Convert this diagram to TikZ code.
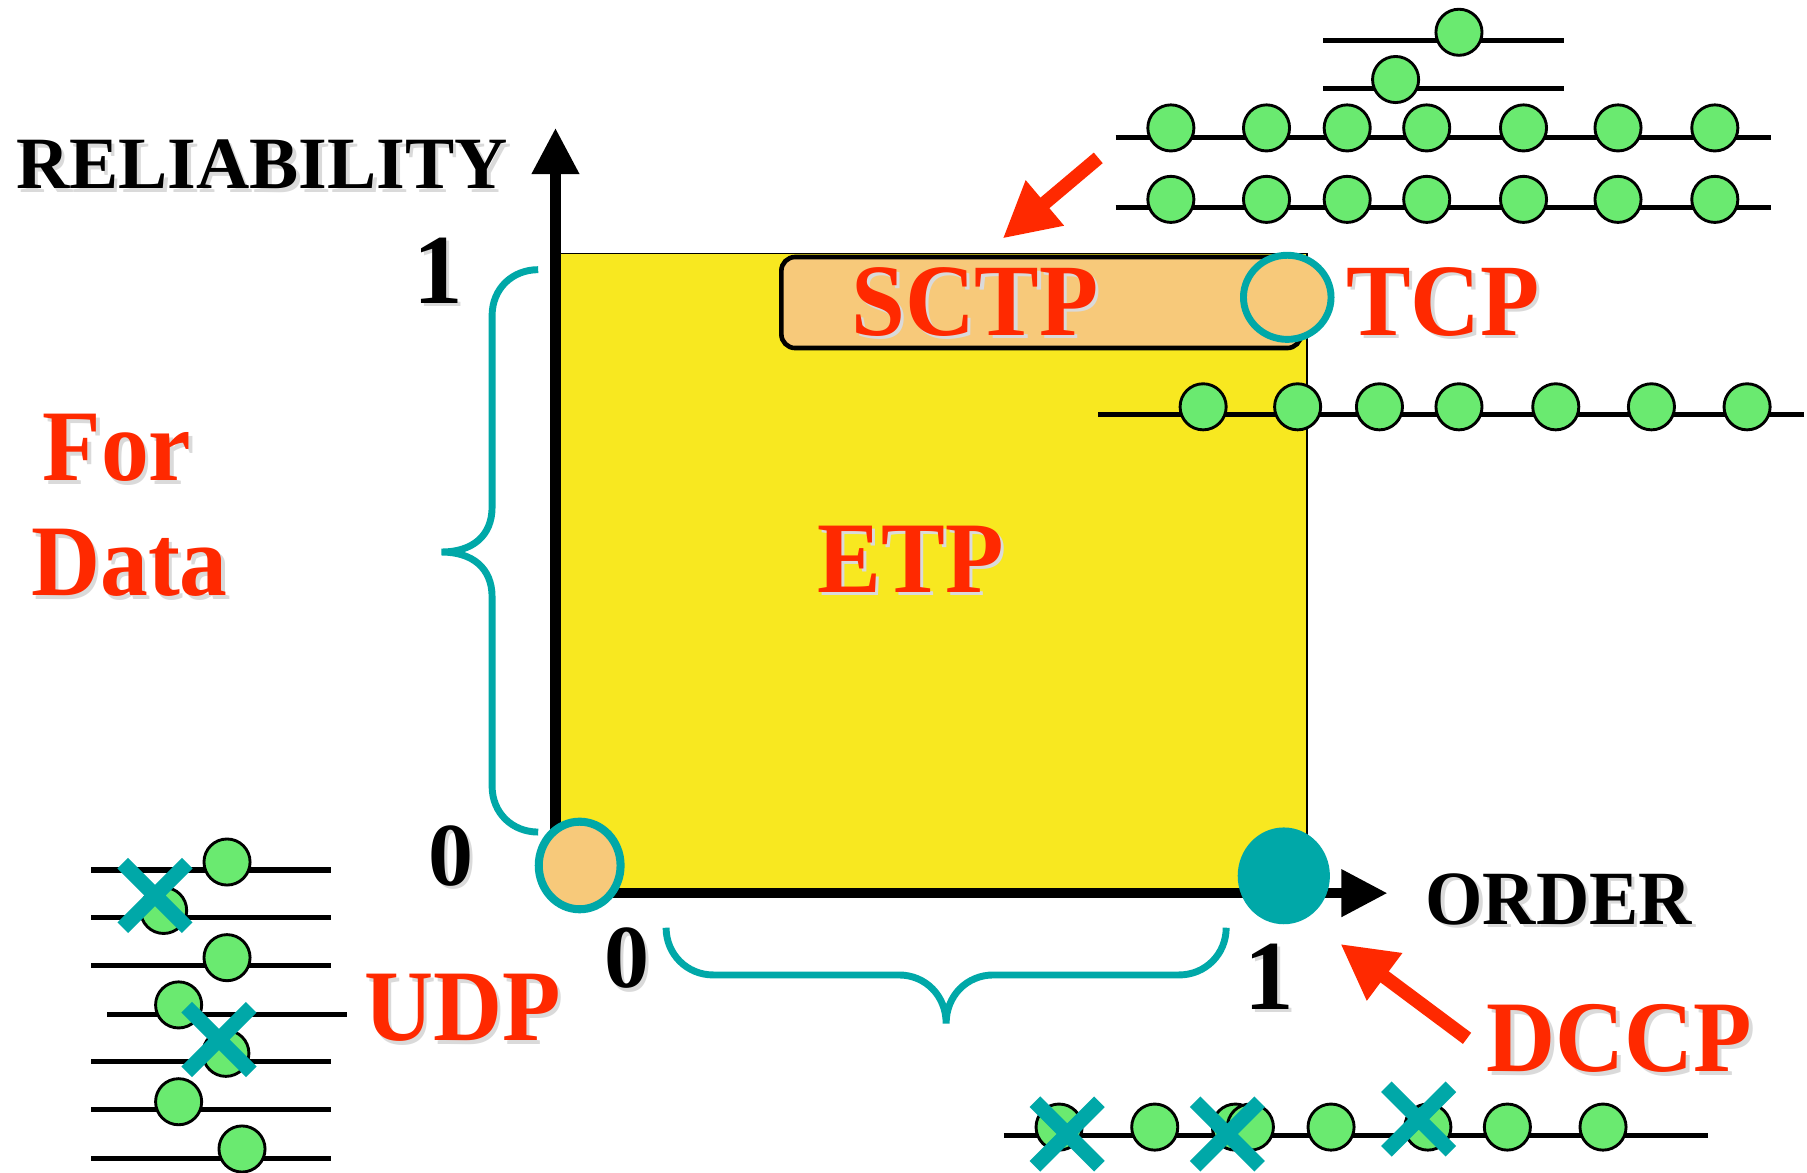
\documentclass[tikz,border=0pt]{standalone}
\usepackage{fontspec}
\setmainfont{Liberation Serif}
\usetikzlibrary{arrows.meta,shapes.geometric,calc}
\definecolor{redc}{RGB}{255,41,0}
\definecolor{tealc}{RGB}{0,168,168}
\definecolor{yellowc}{RGB}{248,232,32}
\definecolor{orangec}{RGB}{247,201,122}
\definecolor{greenc}{RGB}{106,234,112}
\definecolor{shadowc}{RGB}{218,218,218}
\tikzset{
  lbltxt/.style={inner sep=0pt, outer sep=0pt},
  pkt/.style={circle, draw=black, line width=2.5pt, fill=greenc, minimum size=40pt, inner sep=0pt},
  wire/.style={line width=4.5pt, black},
  xmk/.style={line width=13pt, tealc},
  bracec/.style={line width=6pt, tealc},
  axisline/.style={line width=9pt, black, -{Triangle[length=40pt,width=39pt]}},
  redarrow/.style={line width=12pt, redc, -{Triangle[length=48pt,width=48pt]}},
}
% name, position, anchor, font size, colour, vertical stretch, text
\newcommand{\lbl}[7]{%
  \node[lbltxt, anchor=#3, text=shadowc, font=\fontsize{#4}{#4}\selectfont\bfseries] (#1-sh) at ($(#2)+(3,3)$) {\scalebox{1}[#6]{#7}};
  \node[lbltxt, anchor=#3, text=#5, font=\fontsize{#4}{#4}\selectfont\bfseries] (#1) at (#2) {\scalebox{1}[#6]{#7}};}
\newcommand{\xcross}[2]{%
  \draw[xmk, shift={(#1,#2)}] (-28,-28) -- (28,28) (-28,28) -- (28,-28);}
\begin{document}
\begin{tikzpicture}[x=1pt,y=-1pt]
\useasboundingbox (0,0) rectangle (1568,1017);
\fill[white] (0,0) rectangle (1568,1017);

% yellow region
\fill[yellowc] (482,220) rectangle (1134,775);
\draw[line width=1.5pt] (482,220) -- (1134,220) -- (1134,775);

% axes
\coordinate (O) at (482,775);
\coordinate (ytip) at (482,111);
\coordinate (xtip) at (1204,775);
\draw[axisline] (O) -- (ytip);
\draw[axisline] (O) -- (xtip);

% braces
\draw[bracec] (467,234) .. controls (445,234) and (427,250) .. (427,274) -- (427,440)
  .. controls (427,465) and (410,479) .. (383,479)
  .. controls (410,479) and (427,493) .. (427,518) -- (427,682)
  .. controls (427,706) and (445,722) .. (467,722);
\draw[bracec] (578,805) .. controls (578,828) and (596,846) .. (619,846) -- (780,846)
  .. controls (803,846) and (821,864) .. (821,888)
  .. controls (821,864) and (839,846) .. (862,846) -- (1023,846)
  .. controls (1046,846) and (1064,828) .. (1064,805);

% SCTP box
\node[draw=black, line width=4pt, rounded corners=12pt, fill=orangec, minimum width=451pt, minimum height=79pt, inner sep=0pt] (sctpbox) at (903.5,262.5) {};
\lbl{sctp}{846,291}{base}{84}{redc}{1.06}{SCTP}

% TCP / origin / DCCP markers
\node[ellipse, draw=tealc, line width=6pt, fill=orangec, minimum width=76pt, minimum height=73pt, inner sep=0pt] (tcpc) at (1117,258) {};
\node[ellipse, draw=tealc, line width=7pt, fill=orangec, minimum width=71pt, minimum height=76pt, inner sep=0pt] (udpc) at (503,751) {};
\node[ellipse, fill=tealc, minimum width=80pt, minimum height=84pt, inner sep=0pt] (dccpc) at (1114,760) {};

% labels
\lbl{rel}{14,164}{base west}{64}{black}{1}{RELIABILITY}
\lbl{ord}{1237,802}{base west}{64}{black}{1.04}{ORDER}
\lbl{yone}{380,263}{base}{86}{black}{1}{1}
\lbl{yzero}{391,768}{base}{78}{black}{1}{0}
\lbl{xzero}{544,857}{base}{78}{black}{1}{0}
\lbl{xone}{1101,876}{base}{86}{black}{1}{1}
\lbl{tcp}{1168,291}{base west}{84}{redc}{1.06}{TCP}
\lbl{etp}{790,514}{base}{83}{redc}{1.06}{ETP}
\lbl{for}{37,417}{base west}{83}{redc}{1.06}{For}
\lbl{data}{27,517}{base west}{83}{redc}{1.06}{Data}
\lbl{udp}{316,903}{base west}{83}{redc}{1.06}{UDP}
\lbl{dccp}{1290,930}{base west}{83}{redc}{1.06}{DCCP}

% red arrows
\coordinate (sctail) at (953,137);
\coordinate (sctip) at (870,207);
\draw[redarrow] (sctail) -- (sctip);
\coordinate (dctail) at (1273,901);
\coordinate (dctip) at (1163,819);
\draw[redarrow] (dctail) -- (dctip);

% top-right packet rows
\draw[wire] (1148,35) -- (1357,35);
\node[pkt] (pa) at (1266,28) {};
\draw[wire] (1148,77) -- (1357,77);
\node[pkt] (pb) at (1211,69) {};
\draw[wire] (968,119) -- (1537,119);
\draw[wire] (968,180) -- (1537,180);
\foreach \x [count=\i] in {1016,1099,1169,1238,1322,1404,1488} {
  \node[pkt] (pc-\i) at (\x,111) {};
  \node[pkt] (pd-\i) at (\x,173) {};
}
% middle row
\draw[wire] (953,360) -- (1565,360);
\foreach \x [count=\i] in {1044,1126,1197,1266,1350,1433,1516} {
  \node[pkt] (pm-\i) at (\x,353) {};
}
% UDP rows
\foreach \y/\cx/\cy [count=\i] in {755/197/748, 796/142/790, 838/197/831, 880/155/872, 921/196/914, 963/155/956, 1005/210/997} {
  \ifnum\i=4
    \draw[wire] (93,\y) -- (301,\y);
  \else
    \draw[wire] (79,\y) -- (287,\y);
  \fi
  \node[pkt] (pu-\i) at (\cx,\cy) {};
}
% DCCP row
\draw[wire] (871,985) -- (1482,985);
\foreach \x [count=\i] in {919,1002,1072,1085,1155,1239,1308,1391} {
  \node[pkt] (pl-\i) at (\x,978) {};
}

% crosses
\xcross{134.5}{777}
\xcross{190}{902}
\xcross{926}{984}
\xcross{1065}{984}
\xcross{1231}{971}
\end{tikzpicture}
\end{document}
